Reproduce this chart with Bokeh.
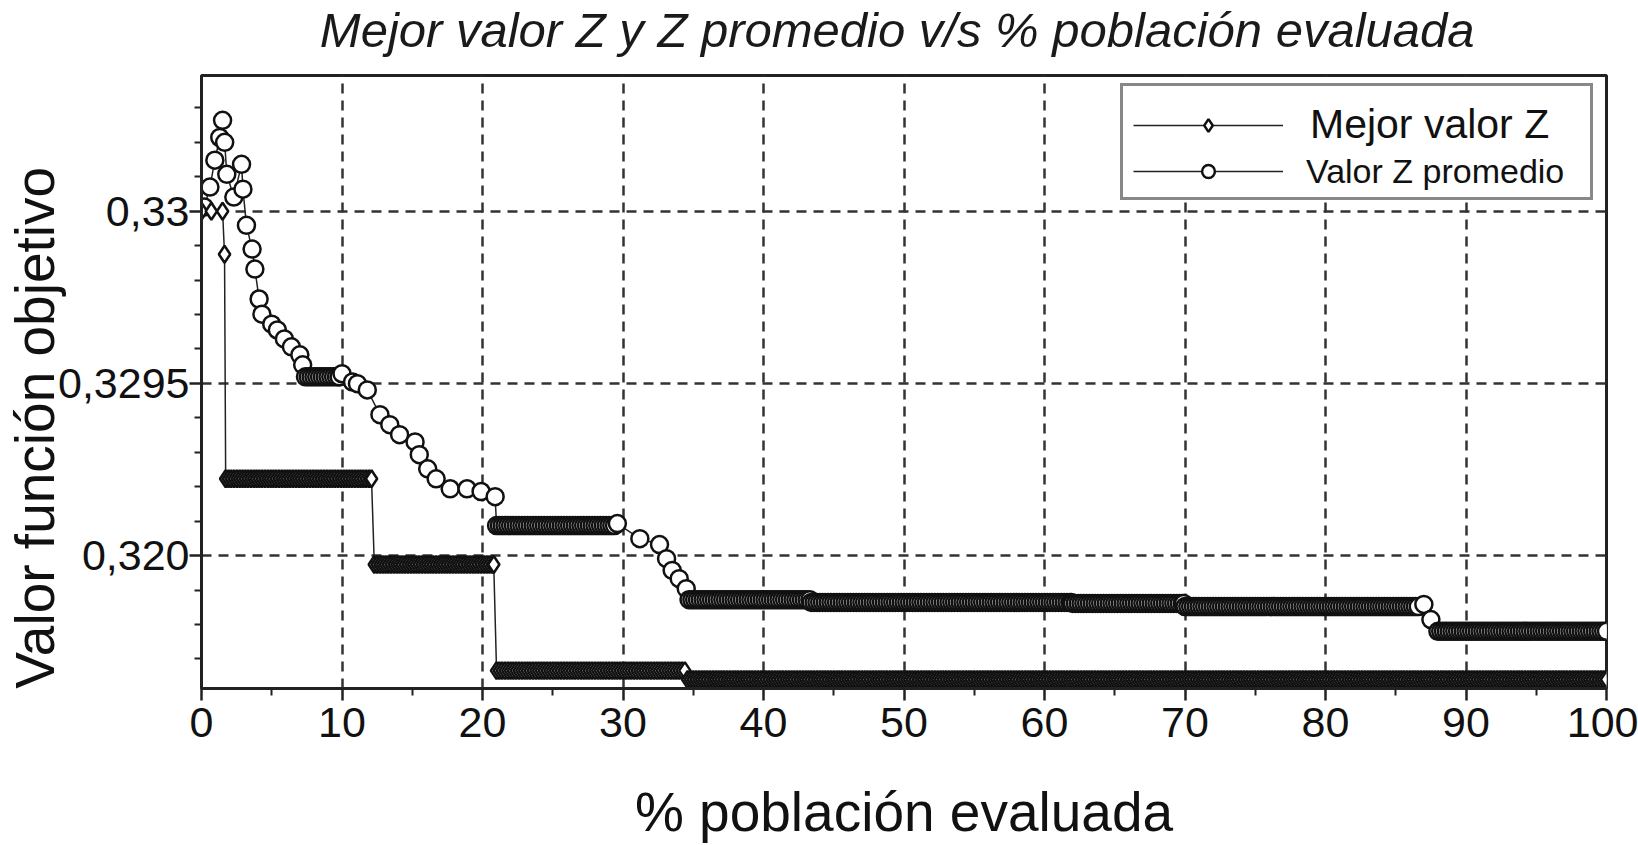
import numpy as np
from bokeh.plotting import figure
from bokeh.models import FixedTicker, Legend, LegendItem, Range1d, Title
from bokeh.embed import file_html
from bokeh.resources import INLINE

# ---------------- data ----------------
# "Mejor valor Z": a few isolated points, then constant steps
best_pts_x = [0.0, 0.7, 1.5, 1.64]
best_pts_y = [0.33000, 0.33000, 0.33000, 0.329875]
best_step_start = [1.72, 12.3, 21.0, 34.6]
best_step_end = [12.1, 20.8, 34.4, 100.0]
best_step_value = [0.329223, 0.328974, 0.328666, 0.328640]

# "Valor Z promedio": sloped parts read point by point, flat parts as steps
avg_pts_x = [0.2, 0.6, 0.95, 1.3, 1.5, 1.65, 1.8, 2.3, 2.85, 2.95, 3.2, 3.6, 3.8,
             4.1, 4.3, 5.0, 5.4, 5.9, 6.4, 7.0, 7.2,
             10.0, 10.75, 11.1, 11.8, 12.7, 13.4, 14.1, 15.2, 15.5, 16.1, 16.7,
             17.7, 18.9, 19.9, 20.9,
             29.6, 31.2, 32.6, 33.1, 33.5, 34.0, 34.5,
             87.0, 87.5]
avg_pts_y = [0.330012, 0.330070, 0.330148, 0.330214, 0.330264, 0.330200, 0.330107,
             0.330041, 0.330136, 0.330064, 0.329959, 0.329890, 0.329832,
             0.329745, 0.329701, 0.329672, 0.329655, 0.329629, 0.329606, 0.329583, 0.329554,
             0.329528, 0.329504, 0.329499, 0.329481, 0.329409, 0.329380, 0.329351,
             0.329330, 0.329293, 0.329252, 0.329223,
             0.329194, 0.329194, 0.329186, 0.329171,
             0.329093, 0.329049, 0.329032, 0.328991, 0.328957, 0.328933, 0.328904,
             0.328858, 0.328814]
avg_step_start = [7.4, 21.0, 34.7, 43.4, 62.0, 70.0, 88.0]
avg_step_end = [9.8, 29.4, 43.3, 61.9, 69.9, 86.6, 100.0]
avg_step_value = [0.329519, 0.329087, 0.328872, 0.328864, 0.328861, 0.328852, 0.328780]

x_ticks = [0, 10, 20, 30, 40, 50, 60, 70, 80, 90, 100]
x_minor = [5, 15, 25, 35, 45, 55, 65, 75, 85, 95]
y_ticks = [0.329, 0.3295, 0.33]
y_tick_labels = ["0,320", "0,3295", "0,33"]
y_minor = [0.3287, 0.3288, 0.3289, 0.3291, 0.3292, 0.3293, 0.3294,
           0.3296, 0.3297, 0.3298, 0.3299, 0.3301, 0.3302, 0.3303]

title = "Mejor valor Z y Z  promedio v/s % población evaluada"
x_label = "% población evaluada"
y_label = "Valor función objetivo"
names = ["Mejor valor Z", "Valor Z promedio"]

FONT = "Liberation Sans"
NBSP = "\u00a0"


def build(px, py, s0, s1, sv, step=0.2):
    xs = list(px)
    ys = list(py)
    for a, b, v in zip(s0, s1, sv):
        xx = list(np.arange(a, b, step)) + [b]
        xs += xx
        ys += [v] * len(xx)
    order = np.argsort(xs, kind="stable")
    return np.array(xs)[order], np.array(ys)[order]


bx, by = build(best_pts_x, best_pts_y, best_step_start, best_step_end, best_step_value)
ax, ay = build(avg_pts_x, avg_pts_y, avg_step_start, avg_step_end, avg_step_value)

p = figure(width=1638, height=845, output_backend="svg", toolbar_location=None,
           title=None,
           x_range=Range1d(0, 100), y_range=Range1d(0.328614, 0.330394),
           min_border_left=190, min_border_right=32, min_border_top=73,
           min_border_bottom=150)

p.outline_line_color = "#222222"
p.outline_line_width = 3
p.background_fill_color = "white"

# spacer between frame and title, then the title itself (outermost)
p.add_layout(Title(text=" ", text_font_size="8px", standoff=8), "above")
p.add_layout(Title(text=title, text_font=FONT, text_font_style="italic",
                   text_font_size="49px", text_color="#1a1a1a", align="center",
                   standoff=0), "above")

# axes
p.xaxis.ticker = FixedTicker(ticks=x_ticks, minor_ticks=x_minor)
p.yaxis.ticker = FixedTicker(ticks=y_ticks, minor_ticks=y_minor)
p.yaxis.major_label_overrides = {t: l for t, l in zip(y_ticks, y_tick_labels)}
for ax_ in (p.xaxis[0], p.yaxis[0]):
    ax_.axis_line_color = "#222222"
    ax_.axis_line_width = 3
    ax_.major_tick_line_color = "#222222"
    ax_.major_tick_line_width = 2.5
    ax_.minor_tick_line_color = "#222222"
    ax_.minor_tick_line_width = 2
    ax_.major_tick_in = 0
    ax_.major_tick_out = 12
    ax_.minor_tick_in = 0
    ax_.minor_tick_out = 7
    ax_.major_label_text_font = FONT
    ax_.major_label_text_font_size = "43px"
    ax_.major_label_text_color = "#111111"
    ax_.major_label_text_line_height = 1.0
    ax_.axis_label_text_font = FONT
    ax_.axis_label_text_font_size = "55px"
    ax_.axis_label_text_font_style = "normal"
    ax_.axis_label_text_color = "#111111"
    ax_.axis_label_text_line_height = 1.0
p.xaxis.axis_label = x_label
p.yaxis.axis_label = y_label + NBSP * 6
p.xaxis.major_label_standoff = 7
p.xaxis.axis_label_standoff = 41
p.yaxis.major_label_standoff = 0
p.yaxis.axis_label_standoff = -11

# grid
p.xgrid.ticker = FixedTicker(ticks=x_ticks[1:-1])
p.ygrid.ticker = FixedTicker(ticks=y_ticks)
for g in (p.xgrid[0], p.ygrid[0]):
    g.grid_line_color = "#333333"
    g.grid_line_width = 2.5
    g.grid_line_dash = "10 7"

# series
avg_line = p.line(ax, ay, line_color="#222222", line_width=1.5)
avg_sc = p.scatter(ax, ay, marker="circle", size=17, line_color="#111111",
                   line_width=2.5, fill_color="white")
best_line = p.line(bx, by, line_color="#222222", line_width=1.5)
best_sc = p.scatter(bx, by, marker="diamond", size=17, line_color="#111111",
                    line_width=2.5, fill_color="white")
ghost = p.scatter(ax[:1], ay[:1], marker="circle", size=1, fill_alpha=0, line_alpha=0)

leg1 = Legend(items=[LegendItem(label=names[0], renderers=[best_line, best_sc]),
                     LegendItem(label=" ", renderers=[avg_line, avg_sc])],
              location=(919, 488), padding=10, spacing=7, margin=0,
              title=" ", title_text_font_size="4px", title_standoff=0,
              glyph_width=150, glyph_height=32, label_standoff=27, label_width=270,
              label_text_font=FONT, label_text_font_size="41px",
              label_text_color="#111111",
              border_line_color="#111111", border_line_width=3,
              background_fill_color="white", background_fill_alpha=1)
leg2 = Legend(items=[LegendItem(label=names[1], renderers=[ghost])],
              location=(929, 497), padding=0, spacing=0, margin=0,
              glyph_width=150, glyph_height=32, label_standoff=26,
              label_text_font=FONT, label_text_font_size="34px",
              label_text_color="#111111",
              border_line_alpha=0, background_fill_alpha=0)
p.add_layout(leg1, "center")
p.add_layout(leg2, "center")

open("out.html", "w").write(file_html(p, INLINE))
